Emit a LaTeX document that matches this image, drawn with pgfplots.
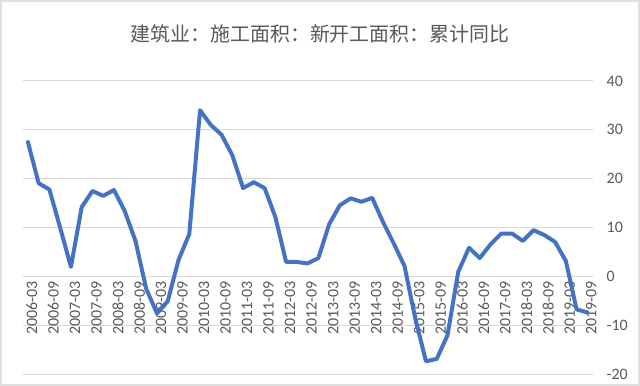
\documentclass[border=0pt]{standalone}
\usepackage{fontspec}
\setmainfont{Carlito}
\newfontfamily\cjk{Noto Sans CJK SC}
\usepackage{pgfplots}
\pgfplotsset{compat=1.18}
\definecolor{linecol}{HTML}{4472C4}
\definecolor{txt}{HTML}{595959}
\definecolor{gridc}{HTML}{D9D9D9}
\begin{document}
\begin{tikzpicture}[x=0.75pt,y=0.75pt]
\draw[draw=gray!25, line width=1.5pt, fill=white] (0,0) rectangle (640,385);
\node[text=txt, font=\cjk\fontsize{15}{18}\selectfont] at (320,352) {建筑业：施工面积：新开工面积：累计同比};
\begin{axis}[
  at={(20,21)}, anchor=south west,
  scale only axis, width=429pt, height=220.9pt,
  xmin=-0.5, xmax=52.5, ymin=-20, ymax=40,
  axis x line*=middle, axis y line*=right,
  axis line style={draw=none},
  major tick length=0pt,
  ymajorgrids, grid style={gridc, line width=0.75pt},
  xtick={0,2,...,52},
  xticklabels={2006-03,2006-09,2007-03,2007-09,2008-03,2008-09,2009-03,2009-09,2010-03,2010-09,2011-03,2011-09,2012-03,2012-09,2013-03,2013-09,2014-03,2014-09,2015-03,2015-09,2016-03,2016-09,2017-09,2018-03,2018-09,2019-03,2019-09},
  xticklabel style={rotate=90, anchor=east, font=\fontsize{12}{14}\selectfont, text=txt, yshift=-3pt},
  ytick={-20,-10,0,10,20,30,40},
  yticklabels={-20,-10,0,10,20,30,40},
  yticklabel style={anchor=west, font=\fontsize{12}{14}\selectfont, text=txt, xshift=7pt},
  clip=false,
]
\addplot[linecol, line width=3pt, line join=round, line cap=round] coordinates {
(0,27.5)(1,19.1)(2,17.8)(3,10.0)(4,2.0)(5,14.2)(6,17.5)(7,16.5)(8,17.7)(9,13.4)
(10,7.3)(11,-2.5)(12,-7.5)(13,-5.0)(14,3.4)(15,8.7)(16,34.0)(17,31.0)(18,29.0)(19,24.8)
(20,18.1)(21,19.3)(22,18.1)(23,12.2)(24,3.0)(25,3.0)(26,2.7)(27,3.8)(28,10.7)(29,14.6)
(30,16.0)(31,15.3)(32,16.1)(33,11.2)(34,6.8)(35,2.2)(36,-8.5)(37,-17.3)(38,-16.8)(39,-12.0)
(40,1.0)(41,5.9)(42,3.8)(43,6.6)(44,8.8)(45,8.8)(46,7.3)(47,9.5)(48,8.5)(49,7.1)
(50,3.2)(51,-6.7)(52,-7.3)
};
\end{axis}
\end{tikzpicture}
\end{document}
